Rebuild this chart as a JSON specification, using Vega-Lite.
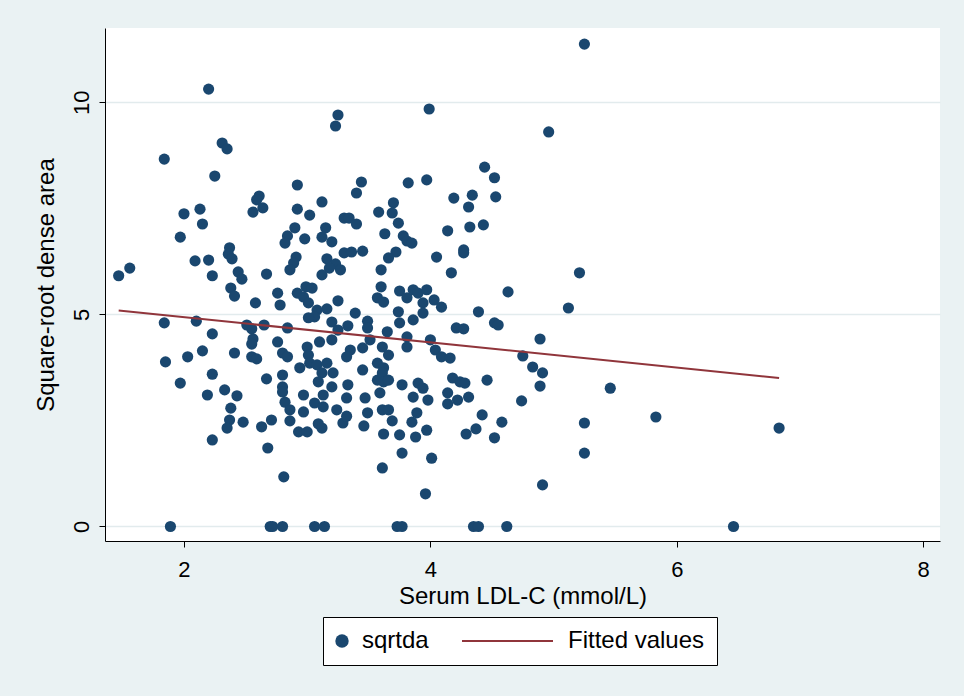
{
"$schema": "https://vega.github.io/schema/vega-lite/v6.json",
"width": 835, "height": 513,
"autosize": {"type": "none"},
"padding": {"left": 105, "top": 28, "right": 24, "bottom": 155},
"background": "#eaf2f3",
"config": {"view": {"fill": "white", "stroke": null}, "font": "Liberation Sans"},
"datasets": {
"pts": [
{"x":2.20,"y":10.31},{"x":2.31,"y":9.04},{"x":2.35,"y":8.90},{"x":1.84,"y":8.66},{"x":3.25,"y":9.70},{"x":3.23,"y":9.44},{"x":3.99,"y":9.84},{"x":5.25,"y":11.37},{"x":4.96,"y":9.30},{"x":2.25,"y":8.26},
{"x":2.61,"y":7.79},{"x":2.59,"y":7.70},{"x":2.64,"y":7.51},{"x":2.56,"y":7.41},{"x":2.00,"y":7.37},{"x":2.13,"y":7.48},{"x":2.15,"y":7.13},{"x":1.97,"y":6.82},{"x":2.37,"y":6.57},{"x":2.36,"y":6.42},
{"x":2.39,"y":6.31},{"x":2.09,"y":6.26},{"x":2.20,"y":6.28},{"x":1.56,"y":6.09},{"x":1.47,"y":5.91},{"x":2.23,"y":5.91},{"x":2.44,"y":6.00},{"x":2.47,"y":5.83},{"x":2.67,"y":5.95},{"x":2.92,"y":8.05},
{"x":3.44,"y":8.12},{"x":3.40,"y":7.86},{"x":3.82,"y":8.10},{"x":3.97,"y":8.17},{"x":3.12,"y":7.65},{"x":2.92,"y":7.48},{"x":3.02,"y":7.34},{"x":3.30,"y":7.27},{"x":3.34,"y":7.27},{"x":3.40,"y":7.13},
{"x":3.58,"y":7.41},{"x":3.70,"y":7.63},{"x":3.69,"y":7.39},{"x":3.74,"y":7.15},{"x":2.90,"y":7.04},{"x":2.84,"y":6.85},{"x":2.82,"y":6.68},{"x":2.98,"y":6.78},{"x":3.15,"y":7.04},{"x":3.12,"y":6.82},
{"x":3.20,"y":6.71},{"x":3.63,"y":6.90},{"x":3.78,"y":6.85},{"x":3.81,"y":6.73},{"x":3.85,"y":6.68},{"x":3.30,"y":6.45},{"x":3.36,"y":6.47},{"x":3.45,"y":6.49},{"x":3.72,"y":6.47},{"x":3.66,"y":6.33},
{"x":2.91,"y":6.35},{"x":2.89,"y":6.21},{"x":2.86,"y":6.05},{"x":3.16,"y":6.31},{"x":3.23,"y":6.19},{"x":3.27,"y":6.05},{"x":3.18,"y":6.09},{"x":3.12,"y":5.93},{"x":3.60,"y":6.05},{"x":4.05,"y":6.35},
{"x":2.99,"y":5.65},{"x":3.04,"y":5.62},{"x":3.60,"y":5.65},{"x":4.44,"y":8.47},{"x":4.52,"y":8.22},{"x":4.19,"y":7.74},{"x":4.34,"y":7.81},{"x":4.31,"y":7.53},{"x":4.53,"y":7.77},{"x":4.14,"y":6.97},
{"x":4.32,"y":7.06},{"x":4.43,"y":7.11},{"x":4.27,"y":6.52},{"x":4.27,"y":6.45},{"x":4.17,"y":5.98},{"x":5.21,"y":5.98},{"x":2.38,"y":5.62},{"x":2.41,"y":5.43},{"x":2.58,"y":5.27},{"x":1.84,"y":4.80},
{"x":2.10,"y":4.84},{"x":2.23,"y":4.54},{"x":2.51,"y":4.75},{"x":2.55,"y":4.66},{"x":2.65,"y":4.75},{"x":2.56,"y":4.42},{"x":2.55,"y":4.30},{"x":1.85,"y":3.88},{"x":2.03,"y":4.00},{"x":2.15,"y":4.14},
{"x":2.41,"y":4.09},{"x":2.55,"y":4.00},{"x":2.59,"y":3.95},{"x":2.23,"y":3.59},{"x":1.97,"y":3.38},{"x":2.67,"y":3.48},{"x":2.19,"y":3.10},{"x":2.33,"y":3.22},{"x":2.43,"y":3.08},{"x":2.38,"y":2.79},
{"x":2.76,"y":5.50},{"x":2.78,"y":5.22},{"x":2.92,"y":5.50},{"x":2.97,"y":5.41},{"x":3.01,"y":5.27},{"x":3.08,"y":5.10},{"x":3.06,"y":4.94},{"x":3.01,"y":4.92},{"x":3.16,"y":5.13},{"x":3.25,"y":5.32},
{"x":3.39,"y":5.03},{"x":3.20,"y":4.82},{"x":3.25,"y":4.63},{"x":3.33,"y":4.73},{"x":3.49,"y":4.84},{"x":3.49,"y":4.68},{"x":2.84,"y":4.68},{"x":3.57,"y":5.39},{"x":3.62,"y":5.29},{"x":3.75,"y":5.55},
{"x":3.81,"y":5.39},{"x":3.86,"y":5.58},{"x":3.90,"y":5.50},{"x":3.97,"y":5.58},{"x":3.94,"y":5.27},{"x":4.03,"y":5.34},{"x":3.74,"y":5.06},{"x":3.75,"y":4.80},{"x":3.86,"y":4.87},{"x":3.94,"y":5.03},
{"x":3.65,"y":4.59},{"x":3.51,"y":4.40},{"x":3.81,"y":4.47},{"x":3.81,"y":4.23},{"x":4.00,"y":4.40},{"x":4.04,"y":4.16},{"x":2.76,"y":4.35},{"x":3.00,"y":4.23},{"x":3.10,"y":4.35},{"x":3.20,"y":4.40},
{"x":3.35,"y":4.16},{"x":3.45,"y":4.21},{"x":3.32,"y":4.00},{"x":3.61,"y":4.23},{"x":3.66,"y":4.04},{"x":2.80,"y":4.09},{"x":2.84,"y":4.00},{"x":3.01,"y":4.04},{"x":3.02,"y":3.85},{"x":2.94,"y":3.74},
{"x":3.08,"y":3.81},{"x":3.16,"y":3.85},{"x":3.12,"y":3.62},{"x":3.21,"y":3.62},{"x":3.45,"y":3.69},{"x":3.57,"y":3.85},{"x":3.62,"y":3.74},{"x":3.57,"y":3.45},{"x":3.61,"y":3.62},{"x":3.62,"y":3.41},
{"x":3.66,"y":3.45},{"x":2.80,"y":3.57},{"x":3.09,"y":3.41},{"x":2.80,"y":3.29},{"x":2.80,"y":3.17},{"x":3.20,"y":3.29},{"x":3.13,"y":3.10},{"x":3.33,"y":3.34},{"x":3.77,"y":3.34},{"x":3.90,"y":3.38},
{"x":3.94,"y":3.26},{"x":2.97,"y":3.10},{"x":3.32,"y":3.03},{"x":3.47,"y":3.03},{"x":3.59,"y":3.15},{"x":3.86,"y":3.05},{"x":3.98,"y":2.98},{"x":2.82,"y":2.93},{"x":3.06,"y":2.91},{"x":3.13,"y":2.82},
{"x":2.86,"y":2.75},{"x":2.97,"y":2.70},{"x":3.24,"y":2.75},{"x":3.49,"y":2.68},{"x":3.61,"y":2.75},{"x":3.66,"y":2.75},{"x":3.89,"y":2.68},{"x":4.09,"y":5.17},{"x":4.63,"y":5.53},{"x":4.39,"y":5.06},
{"x":5.12,"y":5.15},{"x":4.21,"y":4.68},{"x":4.27,"y":4.66},{"x":4.52,"y":4.80},{"x":4.55,"y":4.75},{"x":4.89,"y":4.42},{"x":4.09,"y":4.00},{"x":4.16,"y":3.97},{"x":4.75,"y":4.02},{"x":4.83,"y":3.76},
{"x":4.91,"y":3.62},{"x":4.89,"y":3.31},{"x":4.18,"y":3.50},{"x":4.24,"y":3.41},{"x":4.28,"y":3.38},{"x":4.46,"y":3.45},{"x":4.14,"y":3.15},{"x":4.22,"y":2.98},{"x":4.31,"y":3.05},{"x":4.14,"y":2.89},
{"x":4.74,"y":2.96},{"x":4.42,"y":2.63},{"x":2.37,"y":2.51},{"x":2.35,"y":2.32},{"x":2.48,"y":2.46},{"x":2.63,"y":2.35},{"x":2.71,"y":2.51},{"x":2.23,"y":2.04},{"x":2.68,"y":1.85},{"x":1.89,"y":0},
{"x":2.70,"y":0},{"x":2.86,"y":2.49},{"x":2.93,"y":2.23},{"x":3.00,"y":2.23},{"x":3.09,"y":2.42},{"x":3.12,"y":2.32},{"x":3.29,"y":2.44},{"x":3.32,"y":2.60},{"x":3.46,"y":2.37},{"x":3.69,"y":2.49},
{"x":3.62,"y":2.18},{"x":3.75,"y":2.16},{"x":3.85,"y":2.46},{"x":3.88,"y":2.11},{"x":3.97,"y":2.27},{"x":3.77,"y":1.73},{"x":4.01,"y":1.61},{"x":3.61,"y":1.38},{"x":2.81,"y":1.17},{"x":3.96,"y":0.77},
{"x":2.72,"y":0},{"x":2.80,"y":0},{"x":3.06,"y":0},{"x":3.14,"y":0},{"x":3.73,"y":0},{"x":3.77,"y":0},{"x":4.58,"y":2.46},{"x":4.37,"y":2.30},{"x":4.29,"y":2.18},{"x":4.52,"y":2.09},
{"x":5.25,"y":2.44},{"x":5.25,"y":1.73},{"x":4.91,"y":0.98},{"x":4.35,"y":0},{"x":4.39,"y":0},{"x":4.62,"y":0},{"x":5.46,"y":3.26},{"x":5.83,"y":2.58},{"x":6.46,"y":0},{"x":6.83,"y":2.32}
],
"fit": [{"x":1.47,"y":5.09},{"x":6.83,"y":3.50}]
},
"layer": [
{"data": {"name": "pts"},
 "mark": {"type": "point", "filled": true, "size": 125, "opacity": 1, "strokeWidth": 0},
 "encoding": {
  "x": {"field": "x", "type": "quantitative",
        "scale": {"domain": [1.359, 8.136], "nice": false, "zero": false},
        "axis": {"values": [2,4,6,8], "format": "d", "title": "Serum LDL-C (mmol/L)", "grid": false,
                 "domainColor": "black", "domainWidth": 1, "tickColor": "black", "tickSize": 6, "tickWidth": 1,
                 "labelFontSize": 22, "labelColor": "black", "labelPadding": 12,
                 "titleFontSize": 24, "titleFontWeight": "normal", "titleColor": "black", "titlePadding": 4}},
  "y": {"field": "y", "type": "quantitative",
        "scale": {"domain": [-0.342, 11.75], "nice": false, "zero": false},
        "axis": {"values": [0,5,10], "format": "d", "title": "Square-root dense area", "grid": true,
                 "gridColor": "#e2ebed", "gridWidth": 1.5,
                 "domainColor": "black", "domainWidth": 1, "tickColor": "black", "tickSize": 6, "tickWidth": 1,
                 "labelFontSize": 22, "labelColor": "black", "labelAngle": -90, "labelAlign": "center", "labelBaseline": "bottom", "labelPadding": 6,
                 "titleFontSize": 24, "titleFontWeight": "normal", "titleColor": "black", "titlePadding": 12}},
  "color": {"datum": "sqrtda",
   "scale": {"domain": ["sqrtda", "Fitted values"], "range": ["#1a476f", "#90353b"]},
   "legend": {"title": null, "orient": "none", "legendX": 218, "legendY": 589, "direction": "horizontal", "columns": 2,
     "fillColor": "white", "strokeColor": "black", "padding": 12, "columnPadding": 29,
     "labelFontSize": 24, "labelColor": "black", "labelFont": "Liberation Sans", "labelLimit": 300,
     "encode": {
       "symbols": {"update": {
         "shape": {"signal": "datum.value === 'sqrtda' ? 'circle' : 'stroke'"},
         "size": {"signal": "datum.value === 'sqrtda' ? 180 : 8281"},
         "fill": {"signal": "datum.value === 'sqrtda' ? '#1a476f' : 'transparent'"},
         "stroke": {"signal": "datum.value === 'sqrtda' ? '#1a476f' : '#90353b'"},
         "strokeWidth": {"signal": "datum.value === 'sqrtda' ? 0 : 2"},
         "opacity": {"value": 1},
         "x": {"signal": "datum.value === 'sqrtda' ? 7 : 45.5"}}},
       "labels": {"update": {
         "x": {"signal": "datum.value === 'sqrtda' ? 27 : 106"}}}
     }}}
 }},
{"data": {"name": "fit"},
 "mark": {"type": "line", "strokeWidth": 2},
 "encoding": {
  "x": {"field": "x", "type": "quantitative"},
  "y": {"field": "y", "type": "quantitative"},
  "color": {"datum": "Fitted values",
   "legend": {"title": null, "orient": "none", "legendX": 218, "legendY": 589, "direction": "horizontal", "columns": 2,
     "fillColor": "white", "strokeColor": "black", "padding": 12, "columnPadding": 29,
     "labelFontSize": 24, "labelColor": "black", "labelFont": "Liberation Sans", "labelLimit": 300,
     "encode": {
       "symbols": {"update": {
         "shape": {"signal": "datum.value === 'sqrtda' ? 'circle' : 'stroke'"},
         "size": {"signal": "datum.value === 'sqrtda' ? 180 : 8281"},
         "fill": {"signal": "datum.value === 'sqrtda' ? '#1a476f' : 'transparent'"},
         "stroke": {"signal": "datum.value === 'sqrtda' ? '#1a476f' : '#90353b'"},
         "strokeWidth": {"signal": "datum.value === 'sqrtda' ? 0 : 2"},
         "opacity": {"value": 1},
         "x": {"signal": "datum.value === 'sqrtda' ? 7 : 45.5"}}},
       "labels": {"update": {
         "x": {"signal": "datum.value === 'sqrtda' ? 27 : 106"}}}
     }}}
 }}
]
}
